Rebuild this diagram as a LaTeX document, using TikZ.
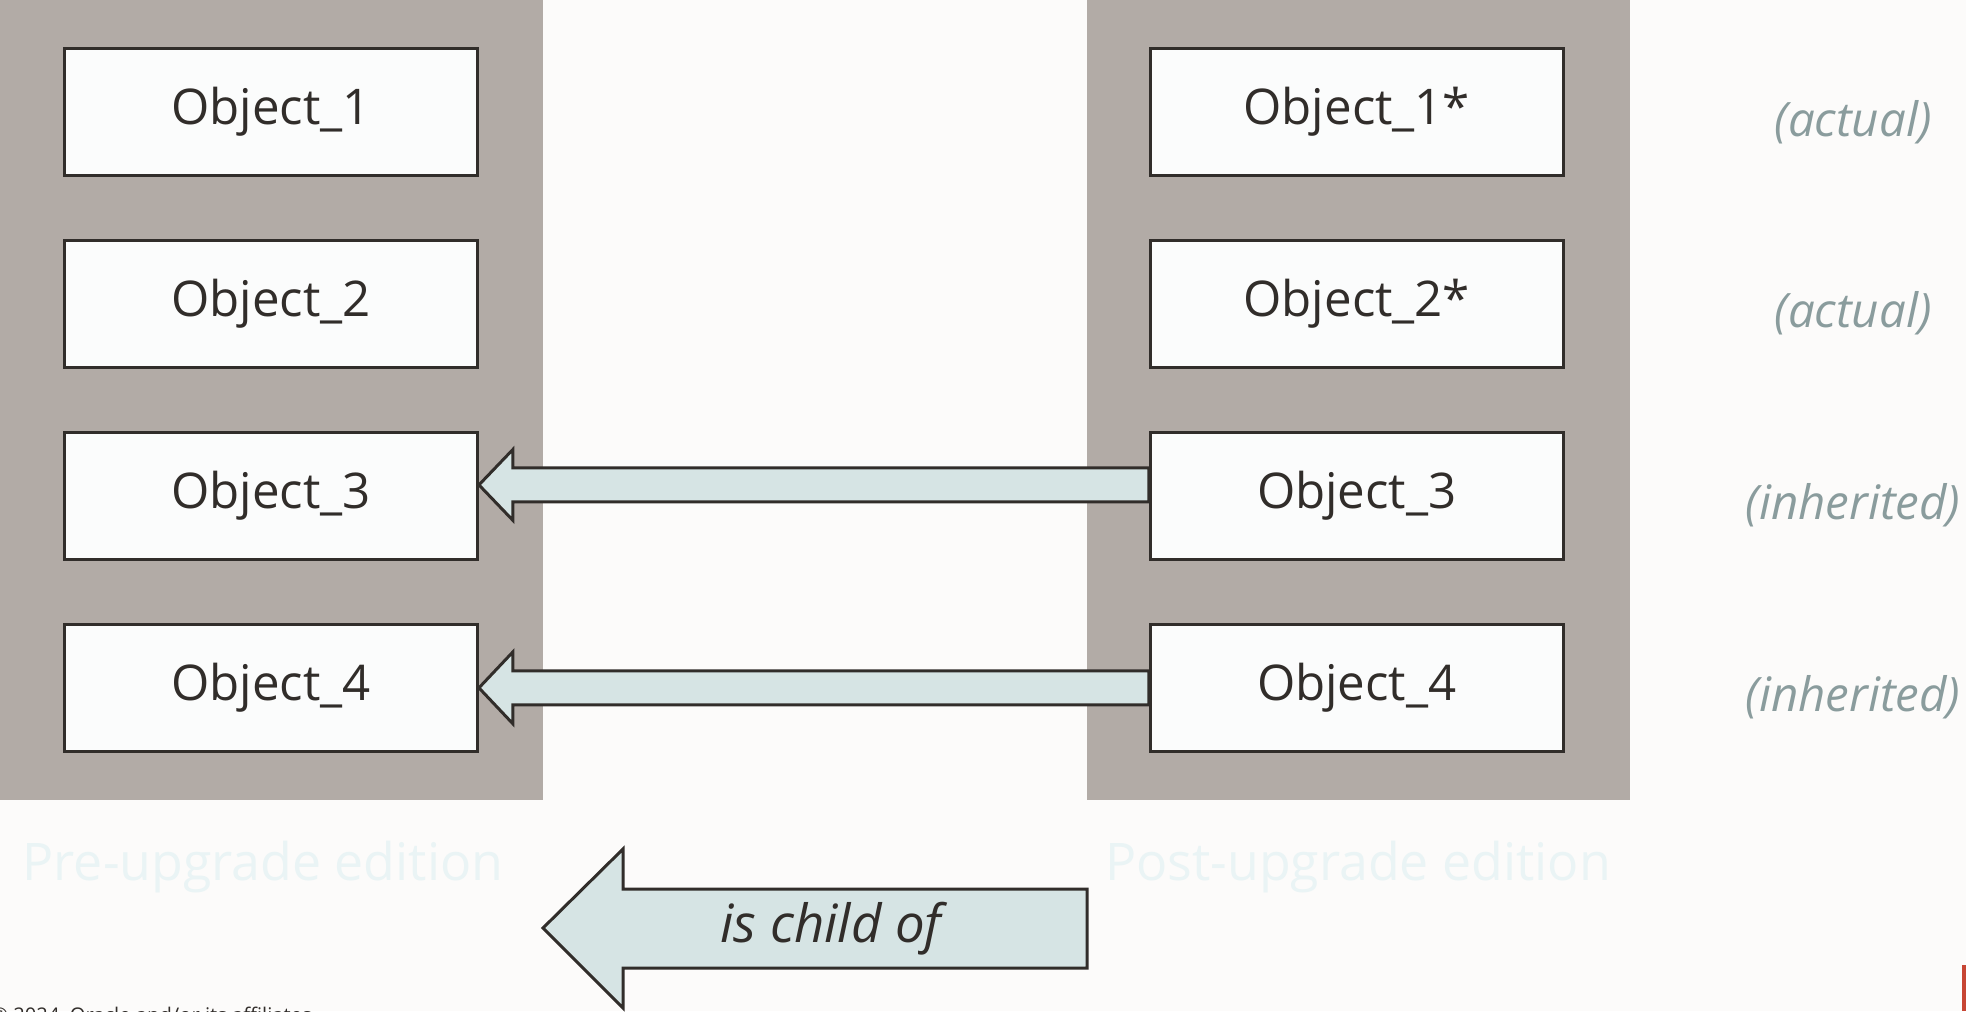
\documentclass[tikz,border=0pt]{standalone}
\usepackage{fontspec}
\setmainfont{Open Sans}
\usepackage{tikz}
\usetikzlibrary{positioning,calc}
\definecolor{paper}{HTML}{FCFBFA}
\definecolor{panel}{HTML}{B2ABA6}
\definecolor{ink}{HTML}{312D2A}
\definecolor{boxfill}{HTML}{FBFCFC}
\definecolor{arrowfill}{HTML}{D6E4E4}
\definecolor{kindgrey}{HTML}{8A9C9D}
\definecolor{faint}{HTML}{EAF4F5}
\definecolor{oraclered}{HTML}{C74634}
\tikzset{
    obj/.style={
           rectangle,
           draw=ink, line width=1.7pt,
           fill=boxfill,
           minimum width=8.26cm, minimum height=2.54cm,
           text=ink,
           font=\fontsize{28}{32}\selectfont,
           },
}
\tikzset{
    kind/.style={
           text=kindgrey,
           font=\fontsize{27}{30}\selectfont\itshape,
           },
}
\tikzset{
    edition/.style={
           text=faint,
           font=\fontsize{29.5}{34}\selectfont,
           },
}
\tikzset{
    childarrow/.style={
           draw=ink, line width=1.7pt,
           fill=arrowfill,
           line join=miter,
           },
}

\begin{document}
\begin{tikzpicture}[x=0.02cm,y=-0.02cm]
\fill[paper] (0,0) rectangle (1966,1011);
\useasboundingbox (0,0) rectangle (1966,1011);
\clip (0,0) rectangle (1966,1011);
\fill[panel] (0,0) rectangle (543,800);
\fill[panel] (1087,0) rectangle (1630,800);
\fill[oraclered] (1962,965) rectangle (1966,1011);

\node[obj](pre1) at (271,112) {Object\_1};
\node[obj,below=1.24cm of pre1](pre2){Object\_2};
\node[obj,below=1.24cm of pre2](pre3){Object\_3};
\node[obj,below=1.24cm of pre3](pre4){Object\_4};
\node[obj,right=13.4cm of pre1](post1){Object\_1*};
\node[obj,right=13.4cm of pre2](post2){Object\_2*};
\node[obj,right=13.4cm of pre3](post3){Object\_3};
\node[obj,right=13.4cm of pre4](post4){Object\_4};

\node[kind] (k1) at (1853,122) {(actual)};
\node[kind] (k2) at (1853,313) {(actual)};
\node[kind] (k3) at (1853,505) {(inherited)};
\node[kind] (k4) at (1853,697) {(inherited)};

% inherited objects point back to the parent edition
\coordinate (tip3) at ($(pre3.east)+(0,-11)$);
\coordinate (end3) at ($(post3.west)+(0,-11)$);
\draw[childarrow] (tip3) -- ++(34,-35.5) |- ($(end3)+(0,-17)$) -- ($(end3)+(0,17)$) -| ($(tip3)+(34,35.5)$) -- cycle;
\coordinate (tip4) at (pre4.east);
\coordinate (end4) at (post4.west);
\draw[childarrow] (tip4) -- ++(34,-36) |- ($(end4)+(0,-17)$) -- ($(end4)+(0,17)$) -| ($(tip4)+(34,36)$) -- cycle;

\node[edition] (preed) at (263,867) {Pre-upgrade edition};
\node[edition] (posted) at (1358,867) {Post-upgrade edition};

\coordinate (bigtip) at (543,928);
\coordinate (bigend) at (1087,928);
\draw[childarrow] (bigtip) -- (623,849) |- ($(bigend)+(0,-39)$) -- ($(bigend)+(0,40)$) -| (623,1008) -- cycle;
\node[text=ink,font=\fontsize{30}{34}\selectfont\itshape] (childof) at (831,929) {is child of};

\node[text=ink,font=\fontsize{11.5}{14}\selectfont,anchor=base east] (foot) at (318,1022) {Copyright © 2024, Oracle and/or its affiliates};
\end{tikzpicture}
\end{document}
